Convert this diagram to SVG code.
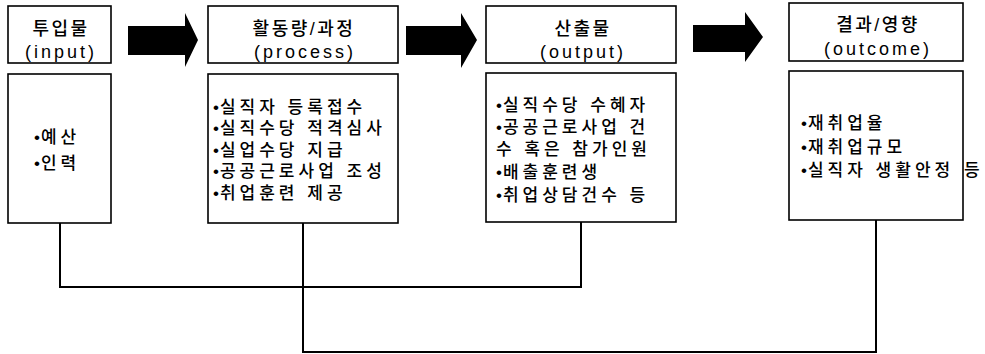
<svg xmlns="http://www.w3.org/2000/svg" width="985" height="354" viewBox="0 0 985 354">
<style>
.box{fill:#fff;stroke:#000;stroke-width:1.6}
.arrow{fill:#000}
.conn{fill:none;stroke:#000;stroke-width:2}
.hk{font-family:"Liberation Sans","Noto Sans CJK KR",sans-serif;font-size:18px;font-weight:500;letter-spacing:2.5px;text-anchor:middle;fill:#000}
.he{font-family:"Liberation Sans","Noto Sans CJK KR",sans-serif;font-size:18px;letter-spacing:3px;text-anchor:middle;fill:#000}
.bt{font-family:"Liberation Sans","Noto Sans CJK KR",sans-serif;font-size:17px;font-weight:500;letter-spacing:4px;fill:#000}
.b{letter-spacing:1px}
</style>
<rect width="985" height="354" fill="#fff"/>
<g id="connectors">
<path class="conn" d="M60 223 V287 H581 V222"/>
<path class="conn" d="M303 223 V352 H876 V220"/>
</g>
<g id="arrows">
<polygon class="arrow" points="128,26 185,26 185,13 198,40 185,67 185,55 128,55"/>
<polygon class="arrow" points="406,26 461,26 461,13 477,40 461,68 461,55 406,55"/>
<polygon class="arrow" points="693,25 745,25 745,12 763,37 745,62 745,52 693,52"/>
</g>
<g id="node-input">
<rect class="box" x="8" y="6" width="103" height="57"/>
<text class="hk" x="61" y="35">투입물</text>
<text class="he" x="61" y="58">(input)</text>
<rect class="box" x="8" y="74" width="103" height="149"/>
<text class="bt" x="34" y="143"><tspan class="b">•</tspan>예산</text>
<text class="bt" x="34" y="169"><tspan class="b">•</tspan>인력</text>
</g>
<g id="node-process">
<rect class="box" x="208" y="6" width="190" height="57"/>
<text class="hk" x="304" y="35">활동량/과정</text>
<text class="he" x="305" y="58">(process)</text>
<rect class="box" x="208" y="74" width="190" height="149"/>
<text class="bt" x="213" y="113"><tspan class="b">•</tspan>실직자 등록접수</text>
<text class="bt" x="213" y="134"><tspan class="b">•</tspan>실직수당 적격심사</text>
<text class="bt" x="213" y="156"><tspan class="b">•</tspan>실업수당 지급</text>
<text class="bt" x="213" y="177"><tspan class="b">•</tspan>공공근로사업 조성</text>
<text class="bt" x="213" y="199"><tspan class="b">•</tspan>취업훈련 제공</text>
</g>
<g id="node-output">
<rect class="box" x="486" y="6" width="190" height="57"/>
<text class="hk" x="583" y="35">산출물</text>
<text class="he" x="583" y="58">(output)</text>
<rect class="box" x="486" y="73" width="190" height="149"/>
<text class="bt" x="496" y="111"><tspan class="b">•</tspan>실직수당 수혜자</text>
<text class="bt" x="496" y="133"><tspan class="b">•</tspan>공공근로사업 건</text>
<text class="bt" x="496" y="155">수 혹은 참가인원</text>
<text class="bt" x="496" y="178"><tspan class="b">•</tspan>배출훈련생</text>
<text class="bt" x="496" y="201"><tspan class="b">•</tspan>취업상담건수 등</text>
</g>
<g id="node-outcome">
<rect class="box" x="789" y="3" width="174" height="58"/>
<text class="hk" x="878" y="31">결과/영향</text>
<text class="he" x="878" y="55">(outcome)</text>
<rect class="box" x="789" y="71" width="174" height="149"/>
<text class="bt" x="801" y="129"><tspan class="b">•</tspan>재취업율</text>
<text class="bt" x="801" y="153"><tspan class="b">•</tspan>재취업규모</text>
<text class="bt" x="801" y="176"><tspan class="b">•</tspan>실직자 생활안정<tspan x="964">등</tspan></text>
</g>
</svg>
